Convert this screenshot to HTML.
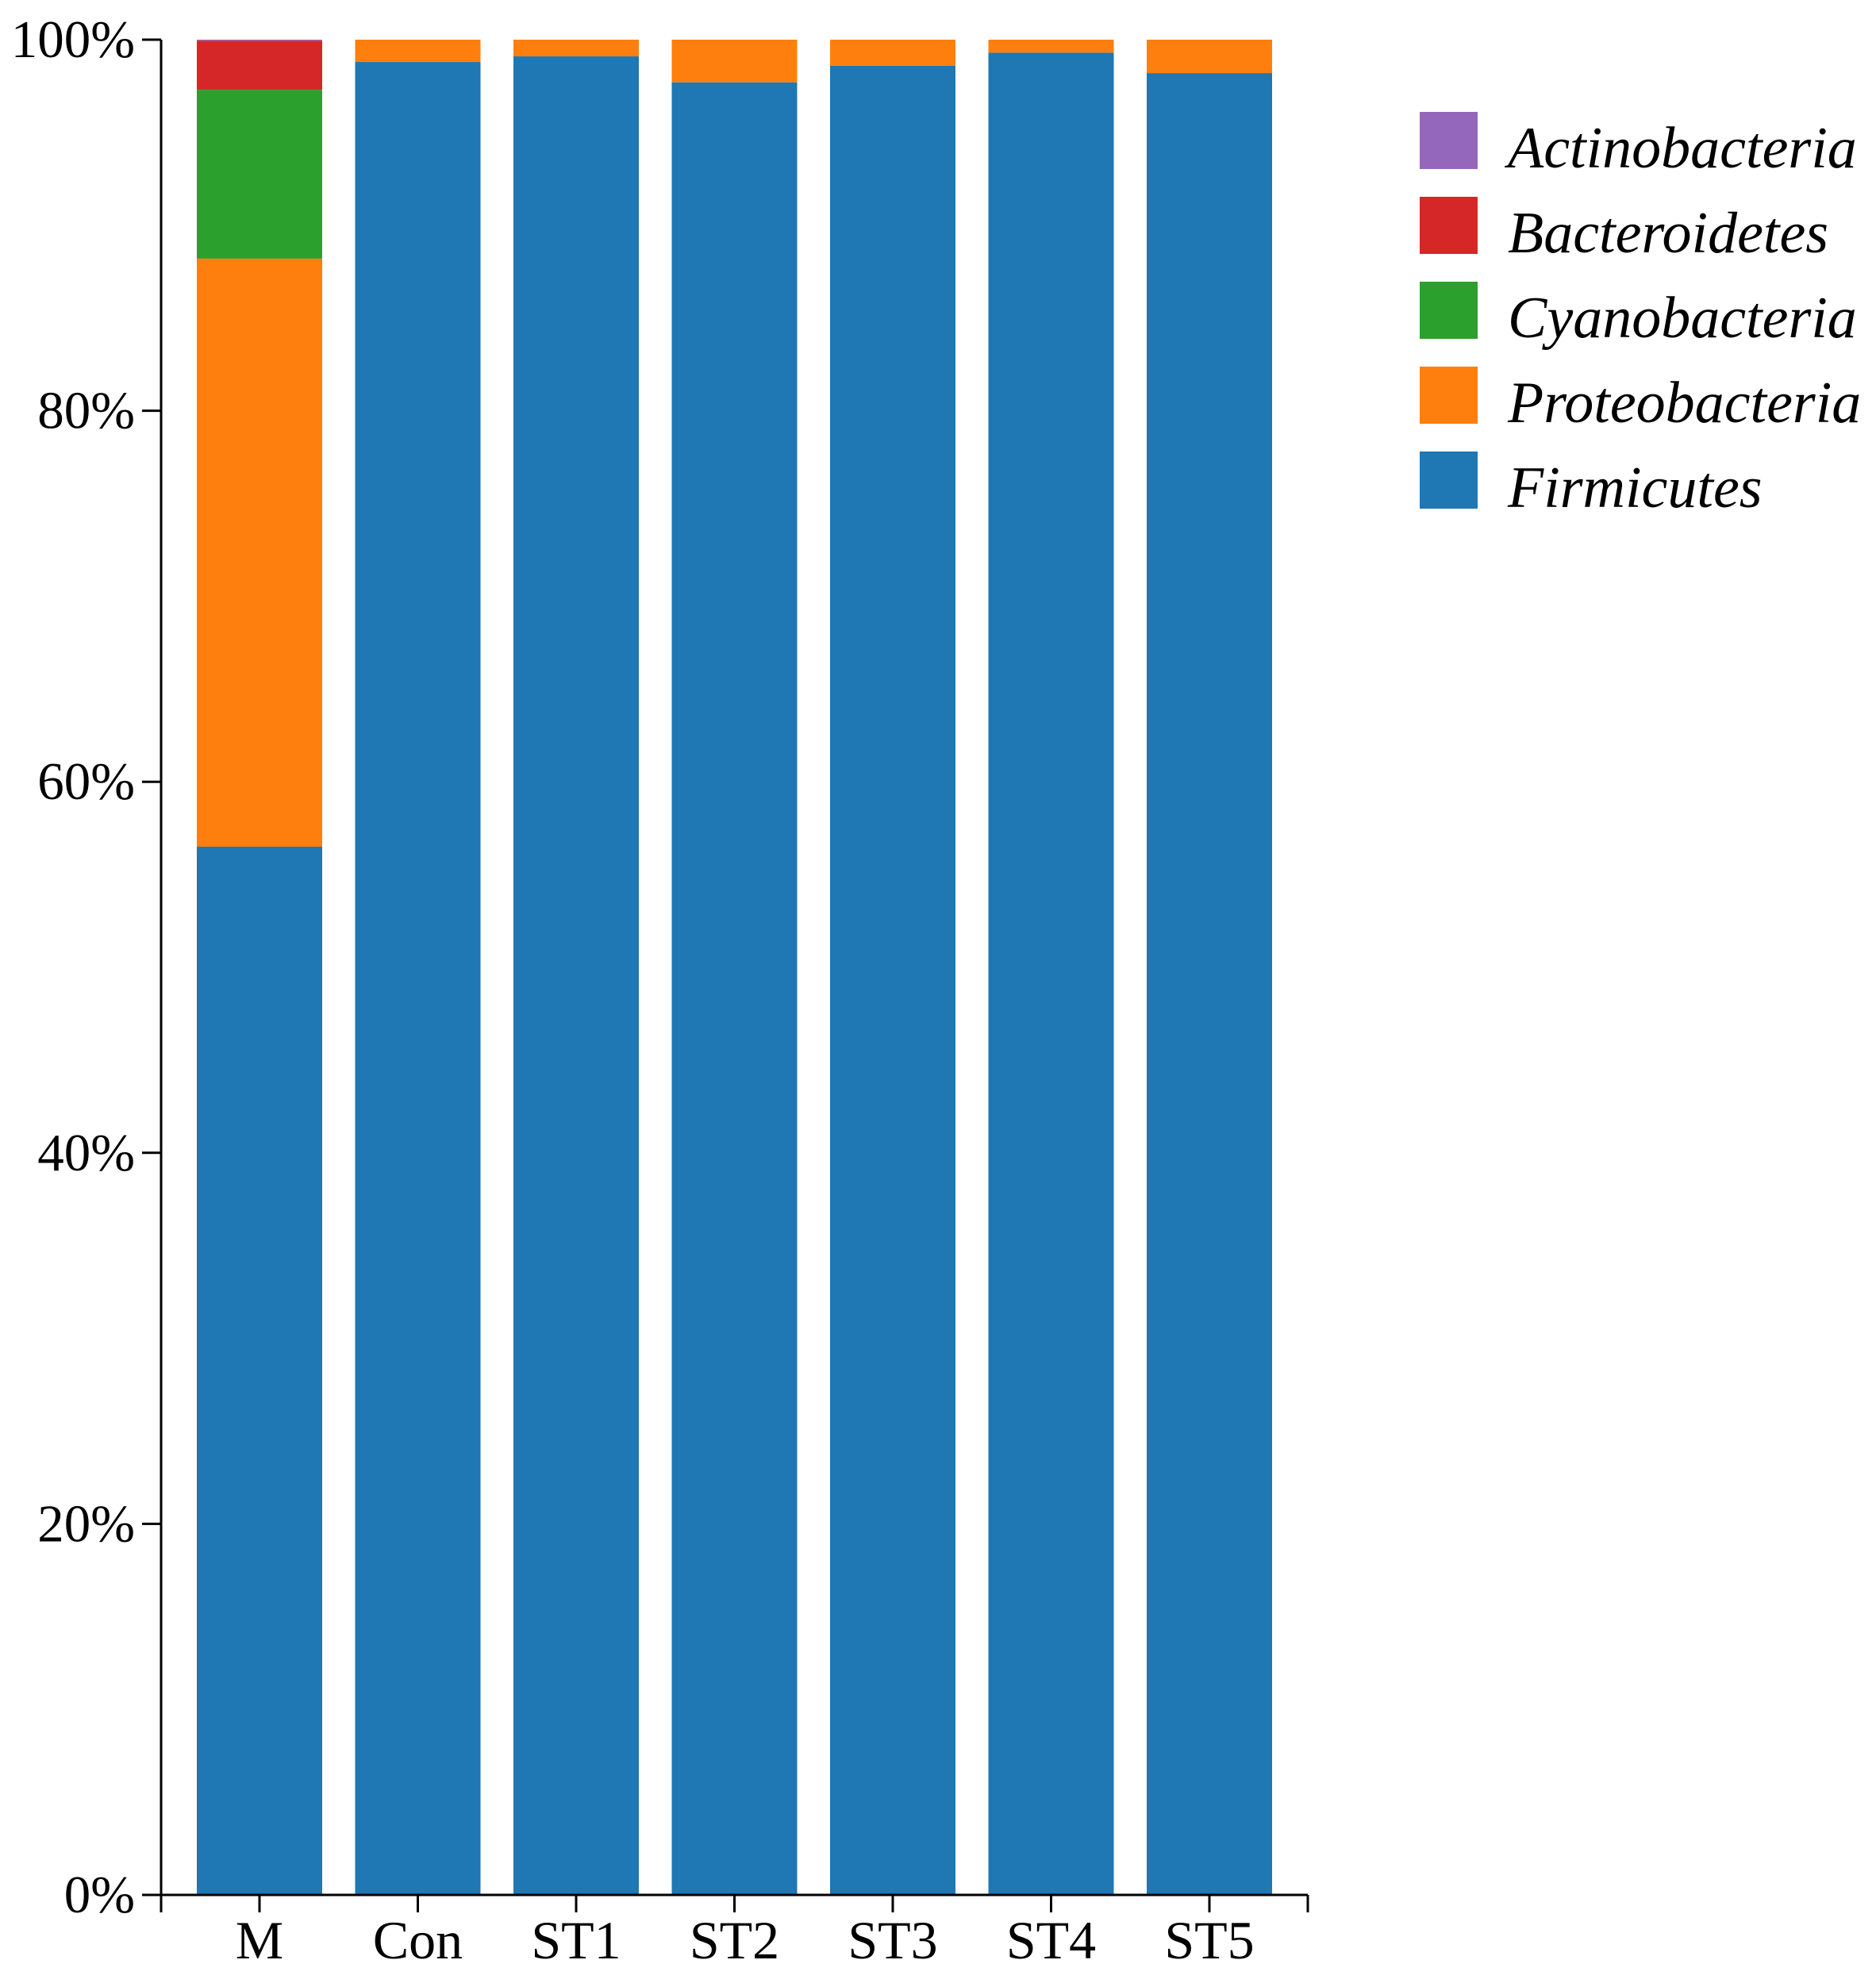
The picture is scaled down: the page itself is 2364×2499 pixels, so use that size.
<!DOCTYPE html>
<html><head><meta charset="utf-8"><style>
html,body{margin:0;padding:0;background:#fff;}
svg{display:block;}
text{font-family:"Liberation Serif",serif;fill:#000;}
</style></head><body>
<svg id="chart" width="2364" height="2499" viewBox="0 0 2364 2499" xmlns="http://www.w3.org/2000/svg"></svg>
<script>
const categories = ["M","Con","ST1","ST2","ST3","ST4","ST5"];
const seriesNames = ["Firmicutes","Proteobacteria","Cyanobacteria","Bacteroidetes","Actinobacteria"];
const firmicutes = [56.5, 98.8, 99.1, 97.7, 98.6, 99.3, 98.2];
const proteobacteria = [31.7, 1.2, 0.9, 2.3, 1.4, 0.7, 1.8];
const cyanobacteria = [9.1, 0, 0, 0, 0, 0, 0];
const bacteroidetes = [2.65, 0, 0, 0, 0, 0, 0];
const actinobacteria = [0.05, 0, 0, 0, 0, 0, 0];
const yTicks = [0, 20, 40, 60, 80, 100];
const yTickLabels = ["0%","20%","40%","60%","80%","100%"];

const colors = ["#1f77b4","#ff7f0e","#2ca02c","#d62728","#9467bd"];
const series = [firmicutes, proteobacteria, cyanobacteria, bacteroidetes, actinobacteria];
const svg = document.getElementById('chart');
const NS = "http://www.w3.org/2000/svg";
const X0 = 203, X1 = 1648, Y0 = 2388, Y1 = 50;
const step = 199.5, barW = 158, firstLeft = 248;
function yScale(v){ return Y0 - (v/100)*(Y0-Y1); }
function xLeft(i){ return firstLeft + i*step; }
function mk(tag, attrs){ const e=document.createElementNS(NS,tag); for(const k in attrs) e.setAttribute(k,attrs[k]); svg.appendChild(e); return e; }

categories.forEach((c,i)=>{
  let cum = 0;
  series.forEach((s,j)=>{
    const v = s[i];
    if (v <= 0) return;
    const r = mk('rect',{x:xLeft(i), y:yScale(cum+v), width:barW, height:yScale(cum)-yScale(cum+v), fill:colors[j]});
    
    
    cum += v;
  });
  const t = mk('line',{x1:xLeft(i)+barW/2, x2:xLeft(i)+barW/2, y1:Y0, y2:Y0+22, stroke:'#000','stroke-width':3});
  
  
  const lb = mk('text',{x:xLeft(i)+barW/2, y:2468, 'font-size':68, 'text-anchor':'middle'});
  lb.textContent = c;
  
  
});

const ya = mk('line',{x1:X0,x2:X0,y1:Y1,y2:Y0+22,stroke:'#000','stroke-width':3});


const xa = mk('line',{x1:X0,x2:X1,y1:Y0,y2:Y0,stroke:'#000','stroke-width':3});


const xe = mk('line',{x1:X1,x2:X1,y1:Y0,y2:Y0+22,stroke:'#000','stroke-width':3});



yTicks.forEach((v,i)=>{
  const t = mk('line',{x1:X0-24,x2:X0,y1:yScale(v),y2:yScale(v),stroke:'#000','stroke-width':3});
  
  
  const lb = mk('text',{x:170, y:yScale(v)+22, 'font-size':67, 'text-anchor':'end'});
  lb.textContent = yTickLabels[i];
  
  
});

const legendOrder = [4,3,2,1,0];
legendOrder.forEach((j,k)=>{
  const y = 141 + k*107;
  const r = mk('rect',{x:1789, y:y, width:73, height:72, fill:colors[j]});
  
  
  const t = mk('text',{x:1900, y:y+70, 'font-size':74, 'font-style':'italic'});
  t.textContent = seriesNames[j];
  
  
});
</script>
</body></html>
